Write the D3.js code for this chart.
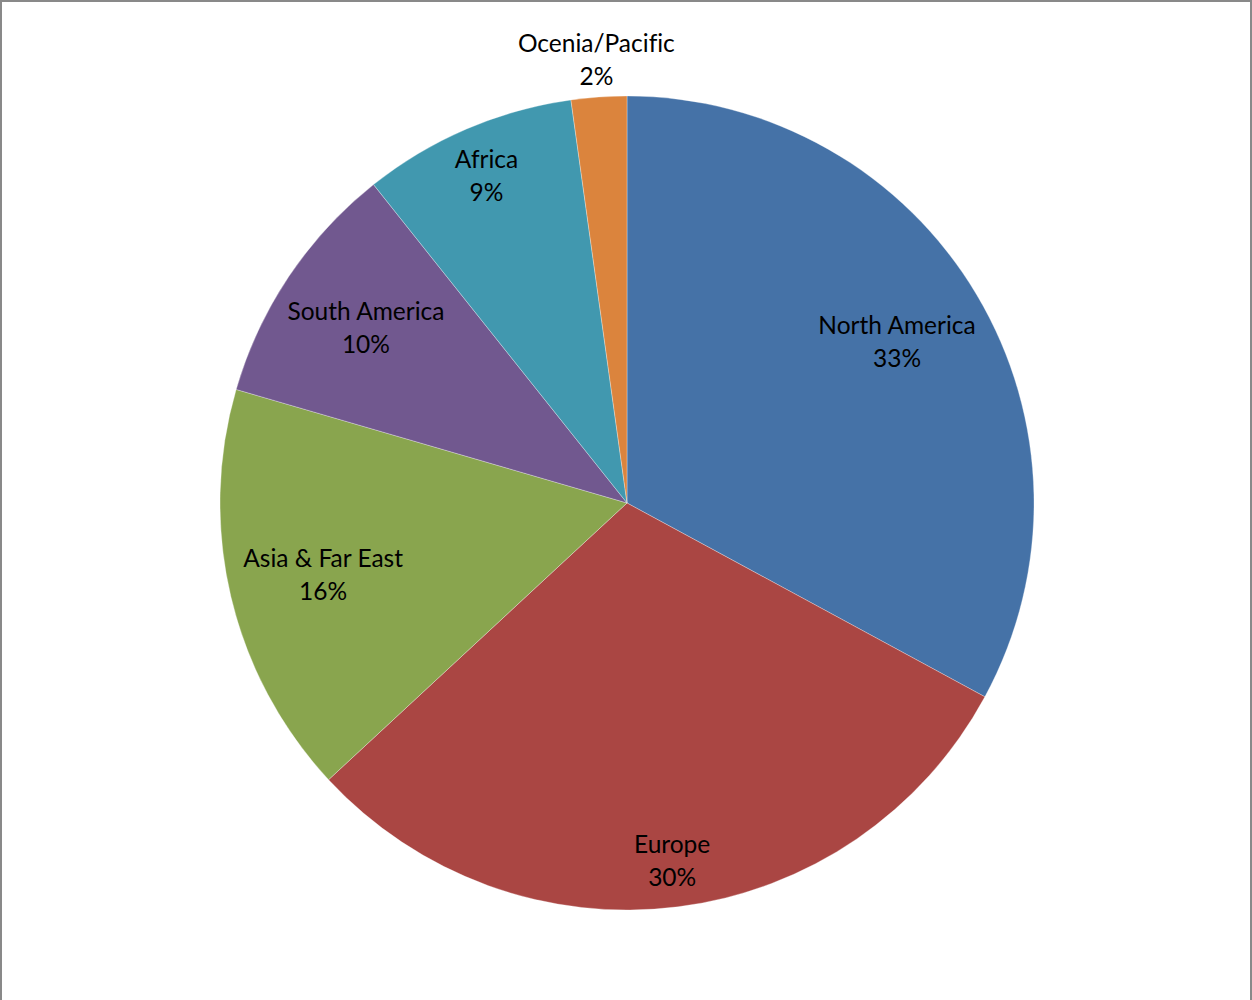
<!DOCTYPE html>
<html>
<head>
<meta charset="utf-8">
<script src="https://cdn.jsdelivr.net/npm/d3@7"></script>
<style>
  html, body { margin: 0; padding: 0; background: #fff; }
  svg { display: block; }
  text { font-family: Lato, "Open Sans", sans-serif; font-size: 24.5px; fill: #000;
         font-variant-ligatures: none; font-feature-settings: "liga" 0; }
</style>
</head>
<body>
<svg id="chart" width="1252" height="1000"></svg>
<script>
// Share of total by region (percent)
const regions = ["North America", "Europe", "Asia & Far East", "South America", "Africa", "Ocenia/Pacific"];
const shares = [32.9, 30.2, 16.4, 9.8, 8.5, 2.2];
const colors = ["#4572A7", "#AA4643", "#89A54E", "#71588F", "#4198AF", "#DB843D"];

const W = 1252, H = 1000;
const cx = 627, cy = 503, R = 407;
const lineGap = 33;

const svg = d3.select("#chart");

// chart frame
svg.append("rect")
  .attr("x", 1).attr("y", 1)
  .attr("width", W - 2).attr("height", H + 10)
  .attr("fill", "none").attr("stroke", "#898989").attr("stroke-width", 2);

const data = regions.map((name, i) => ({ name, value: shares[i], color: colors[i] }));

const pie = d3.pie().value(d => d.value).sort(null);
const arcs = pie(data);
const total = d3.sum(shares);

const arc = d3.arc().innerRadius(0).outerRadius(R);
const g = svg.append("g").attr("transform", `translate(${cx},${cy})`);

g.selectAll("path.slice")
  .data(arcs)
  .join("path")
  .attr("class", "slice")
  .attr("d", arc)
  .attr("fill", d => d.data.color)
  .attr("stroke", "#ffffff")
  .attr("stroke-width", 0.6)
  .attr("stroke-opacity", 0.5);

const labels = g.selectAll("g.label")
  .data(arcs)
  .join("g")
  .attr("class", "label");

labels.append("text")
  .attr("text-anchor", "middle")
  .attr("y", -lineGap / 2)
  .attr("dy", "0.35em")
  .text(d => d.data.name);

labels.append("text")
  .attr("text-anchor", "middle")
  .attr("y", lineGap / 2)
  .attr("dy", "0.35em")
  .text(d => Math.round(d.data.value / total * 100) + "%");

// best-fit placement: large slices keep the label box inside the rim,
// thin slices get their label just outside the pie
labels.each(function (d) {
  const node = d3.select(this);
  const box = this.getBBox();
  const hw = box.width / 2, hh = box.height / 2;
  const mid = (d.startAngle + d.endAngle) / 2;
  const sx = Math.sin(mid), sy = -Math.cos(mid);
  const frac = (d.endAngle - d.startAngle) / (2 * Math.PI);
  let r;
  if (frac < 0.05) {
    r = R + 37;
  } else {
    const limit = R - 9;
    r = R * 0.9;
    const fits = rr => {
      const x = sx * rr, y = sy * rr;
      return [[-hw, -hh], [hw, -hh], [-hw, hh], [hw, hh]]
        .every(([ox, oy]) => Math.hypot(x + ox, y + oy) <= limit);
    };
    while (r > 0 && !fits(r)) r -= 1;
  }
  node.attr("transform", `translate(${sx * r},${sy * r})`);
});
</script>
</body>
</html>
